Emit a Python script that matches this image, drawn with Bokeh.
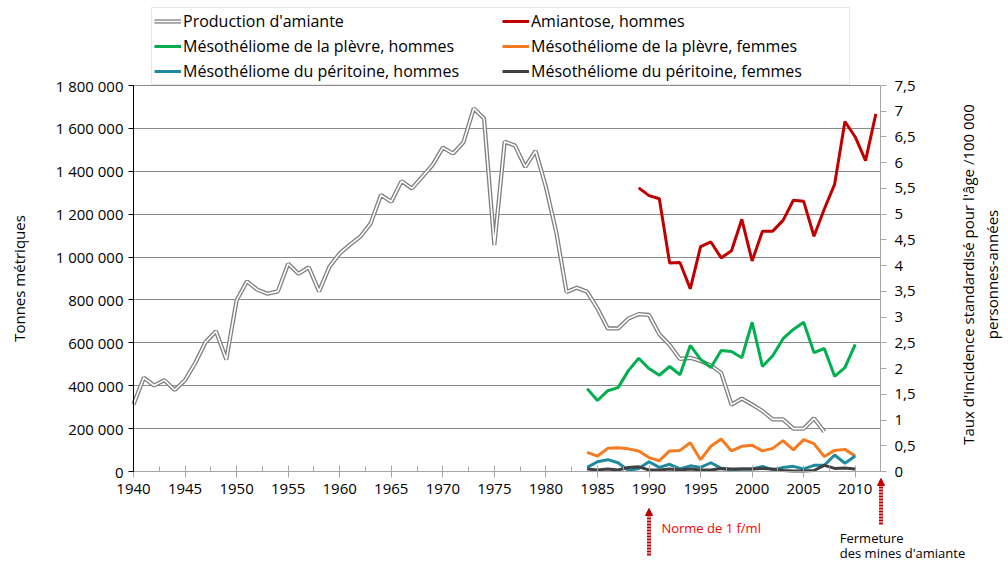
import math
from bokeh.plotting import figure
from bokeh.models import (Range1d, LinearAxis, SingleIntervalTicker, CustomJSTickFormatter,
                          Legend, LegendItem, Label, Arrow, NormalHead)
from bokeh.embed import file_html
from bokeh.resources import INLINE

# ---------------- data ----------------
years_prod = list(range(1940, 2008))
production = [313000, 437000, 401000, 426000, 380000, 426000, 507000, 604000, 654000, 522000,
              798000, 887000, 848000, 829000, 840000, 969000, 922000, 952000, 840000, 955000,
              1017000, 1058000, 1095000, 1157000, 1289000, 1258000, 1354000, 1320000, 1374000, 1429000,
              1510000, 1483000, 1535000, 1693000, 1646000, 1056000, 1538000, 1520000, 1420000, 1495000,
              1327000, 1117000, 837000, 857000, 838000, 760000, 667000, 667000, 713000, 734000,
              730000, 640000, 590000, 525000, 530000, 515000, 495000, 460000, 312000, 340000,
              312000, 282000, 243000, 243000, 200000, 200000, 248000, 185000]

years_asb = list(range(1989, 2013))
asbestosis_men = [5.51, 5.36, 5.30, 4.05, 4.06, 3.55, 4.37, 4.46, 4.15, 4.29, 4.90, 4.09,
                  4.67, 4.67, 4.88, 5.27, 5.25, 4.57, 5.10, 5.58, 6.80, 6.50, 6.04, 6.95]

years_rate = list(range(1984, 2011))
pleura_men = [1.61, 1.38, 1.57, 1.63, 1.96, 2.20, 2.00, 1.87, 2.04, 1.88, 2.45, 2.18, 2.02, 2.35,
              2.33, 2.21, 2.90, 2.04, 2.25, 2.58, 2.76, 2.90, 2.31, 2.39, 1.85, 2.02, 2.47]
pleura_women = [0.37, 0.30, 0.45, 0.46, 0.44, 0.40, 0.27, 0.21, 0.40, 0.41, 0.56, 0.23, 0.49, 0.63,
                0.40, 0.49, 0.51, 0.40, 0.45, 0.60, 0.42, 0.62, 0.54, 0.29, 0.41, 0.43, 0.30]
perit_men = [0.08, 0.19, 0.23, 0.17, 0.02, 0.06, 0.19, 0.08, 0.14, 0.05, 0.11, 0.08, 0.17, 0.06,
             0.03, 0.05, 0.05, 0.10, 0.03, 0.08, 0.10, 0.05, 0.12, 0.12, 0.32, 0.16, 0.30]
perit_women = [0.05, 0.03, 0.05, 0.03, 0.08, 0.09, 0.03, 0.03, 0.05, 0.03, 0.05, 0.03, 0.03, 0.06,
               0.05, 0.05, 0.05, 0.06, 0.05, 0.02, 0.01, 0.01, 0.02, 0.12, 0.06, 0.07, 0.05]

labels = ["Production d'amiante", "Amiantose, hommes",
          "Mésothéliome de la plèvre, hommes", "Mésothéliome de la plèvre, femmes",
          "Mésothéliome du péritoine, hommes", "Mésothéliome du péritoine, femmes"]

left_title = "Tonnes métriques"
right_title = "Taux d'incidence standardisé pour l'âge /100 000\npersonnes-années"
notes = ["Norme de 1 f/ml", "Fermeture", "des mines d'amiante"]
note_years = [1990, 2012.5]

# ---------------- layout ----------------
FONT = "Open Sans"
W, H = 1004, 561
X_START, X_END = 1940, 2012.45
AX_LEFT_PX, AX_RIGHT_PX = 133, 880          # page columns of the two value axes
AXIS_TOP_PX, AXIS_ZERO_PX = 85, 471         # page rows of the top / 0 levels
Y_MAX, R_MAX = 1800000, 7.5

ppy = (AX_RIGHT_PX - AX_LEFT_PX) / (X_END - X_START)
t_per_px = Y_MAX / (AXIS_ZERO_PX - AXIS_TOP_PX)
r_per_px = R_MAX / (AXIS_ZERO_PX - AXIS_TOP_PX)
below_px = H - AXIS_ZERO_PX

p = figure(width=W, height=H, output_backend="svg", toolbar_location=None,
           x_range=Range1d(X_START - AX_LEFT_PX / ppy, X_END + (W - AX_RIGHT_PX) / ppy),
           y_range=Range1d(-below_px * t_per_px, Y_MAX + AXIS_TOP_PX * t_per_px),
           min_border_left=0, min_border_right=0, min_border_top=0, min_border_bottom=0)
p.extra_y_ranges = {"rate": Range1d(-below_px * r_per_px, R_MAX + AXIS_TOP_PX * r_per_px)}
p.outline_line_color = None
p.background_fill_color = "white"
p.border_fill_color = "white"

# x axis, drawn at the 0 level
xa = p.xaxis[0]
xa.fixed_location = 0
xa.bounds = (X_START, X_END)
xa.ticker = SingleIntervalTicker(interval=5, num_minor_ticks=2)
xa.axis_line_color = "#a6a6a6"
xa.major_tick_line_color = "#a6a6a6"
xa.minor_tick_line_color = "#a6a6a6"
xa.major_tick_in = 6
xa.major_tick_out = 6
xa.minor_tick_in = 5
xa.minor_tick_out = 0
xa.major_label_standoff = 6
xa.major_label_text_font = FONT
xa.major_label_text_font_size = "15px"
xa.major_label_text_color = "black"

ya = p.yaxis[0]
ya.fixed_location = X_START
ya.bounds = (0, Y_MAX)
ya.ticker = SingleIntervalTicker(interval=200000, num_minor_ticks=0)
ya.formatter = CustomJSTickFormatter(
    code="return Math.round(tick).toString().replace(/\\B(?=(\\d{3})+(?!\\d))/g, ' ');")
ya.axis_line_color = "black"
ya.major_tick_line_color = "black"
ya.major_tick_in = 0
ya.major_tick_out = 5
ya.minor_tick_line_color = None
ya.major_label_text_font = FONT
ya.major_label_text_font_size = "15px"
ya.major_label_text_color = "black"
ya.axis_label = left_title
ya.axis_label_text_font = FONT
ya.axis_label_text_font_size = "15px"
ya.axis_label_text_font_style = "normal"
ya.axis_label_text_color = "black"
ya.axis_label_standoff = 24

ra = LinearAxis(y_range_name="rate", bounds=(0, R_MAX), fixed_location=X_END,
                ticker=SingleIntervalTicker(interval=0.5, num_minor_ticks=0),
                formatter=CustomJSTickFormatter(code="return tick.toString().replace('.', ',');"))
ra.axis_line_color = "#a6a6a6"
ra.major_tick_line_color = "#a6a6a6"
ra.major_tick_in = 0
ra.major_tick_out = 6
ra.minor_tick_line_color = None
ra.major_label_standoff = 8
ra.major_label_text_font = FONT
ra.major_label_text_font_size = "15px"
ra.major_label_text_color = "black"
p.add_layout(ra, "right")

# right-hand axis title, reading bottom to top
p.add_layout(Label(x=X_END + (979 - AX_RIGHT_PX) / ppy,
                   y=(AXIS_ZERO_PX - 274) * t_per_px,
                   text=right_title, angle=math.pi / 2,
                   text_font=FONT, text_font_size="15px", text_color="black",
                   text_align="center", text_baseline="middle"))

p.xgrid.visible = False
p.ygrid.grid_line_color = "#8c8c8c"
p.ygrid.grid_line_width = 1
p.ygrid.bounds = (0, Y_MAX)
try:
    p.ygrid.cross_bounds = (X_START, X_END)
except Exception:
    pass

# series
prod_outer = p.line(years_prod, production, line_color="#7f7f7f", line_width=4.2)
prod_inner = p.line(years_prod, production, line_color="white", line_width=1.6)
r_asb = p.line(years_asb, asbestosis_men, y_range_name="rate", line_color="#c00000", line_width=3)
r_pm = p.line(years_rate, pleura_men, y_range_name="rate", line_color="#00b050", line_width=3)
r_pw = p.line(years_rate, pleura_women, y_range_name="rate", line_color="#f47b20", line_width=3)
r_tm = p.line(years_rate, perit_men, y_range_name="rate", line_color="#1f8a9e", line_width=3)
r_tw = p.line(years_rate, perit_women, y_range_name="rate", line_color="#404040", line_width=3)

items = [
    LegendItem(label=labels[0], renderers=[prod_outer, prod_inner]),
    LegendItem(label=labels[2], renderers=[r_pm]),
    LegendItem(label=labels[4], renderers=[r_tm]),
    LegendItem(label=labels[1], renderers=[r_asb]),
    LegendItem(label=labels[3], renderers=[r_pw]),
    LegendItem(label=labels[5], renderers=[r_tw]),
]
legend = Legend(items=items, ncols=2, orientation="vertical",
                location=(151, H - AXIS_TOP_PX), padding=2, margin=0, spacing=3,
                label_height=20, glyph_height=20, glyph_width=27, label_standoff=2,
                label_width=316,
                label_text_font=FONT, label_text_font_size="16px", label_text_color="black",
                border_line_color="#d0d0d0", border_line_width=1,
                background_fill_color="white", background_fill_alpha=1)
p.add_layout(legend, "center")

# notes below the axis (pixel offsets converted to data units)
def below(pix):
    return -pix * t_per_px

head = dict(size=7, fill_color="#c00000", line_color="#c00000")
p.add_layout(Arrow(end=NormalHead(**head), x_start=note_years[0], y_start=below(84),
                   x_end=note_years[0], y_end=below(37),
                   line_color="#c00000", line_width=4, line_dash="2 1"))
p.add_layout(Arrow(end=NormalHead(**head), x_start=note_years[1], y_start=below(53),
                   x_end=note_years[1], y_end=below(7),
                   line_color="#c00000", line_width=4, line_dash="2 1"))
p.add_layout(Label(x=note_years[0] + 1.2, y=below(56), text=notes[0], text_color="#ff0000",
                   text_font=FONT, text_font_size="13px", text_baseline="middle", text_align="left"))
p.add_layout(Label(x=2008.5, y=below(66), text=notes[1], text_color="black",
                   text_font=FONT, text_font_size="13px", text_baseline="middle", text_align="left"))
p.add_layout(Label(x=2008.5, y=below(81), text=notes[2], text_color="black",
                   text_font=FONT, text_font_size="13px", text_baseline="middle", text_align="left"))

open("out.html", "w").write(file_html(p, INLINE))
